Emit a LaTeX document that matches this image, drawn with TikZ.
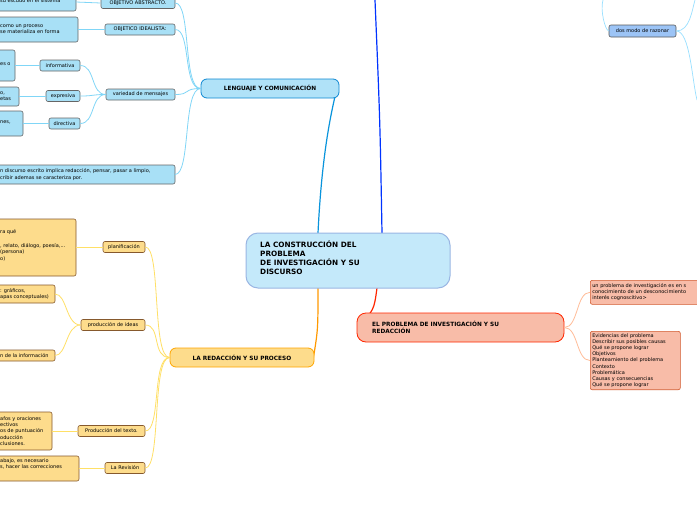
\documentclass[tikz,border=0pt]{standalone}
\usepackage{fontspec}
\setmainfont{DejaVu Sans}
\begin{document}
\begin{tikzpicture}[x=1pt,y=-1pt,
  every node/.style={font=\fontsize{5}{6.2}\selectfont, inner sep=0pt},
  bleaf/.style={draw=gray!80!black, fill=cyan!25, rounded corners=2pt, line width=0.6pt},
  oleaf/.style={draw=brown!70!black, fill=orange!35!yellow!60, rounded corners=2pt, line width=0.6pt},
  rleaf/.style={draw=brown!70!red, fill=red!25!orange!30, rounded corners=2pt, line width=0.6pt},
  bl/.style={draw=cyan!50, line width=0.8pt},
  ol/.style={draw=orange!40!yellow!60, line width=0.8pt},
  rl/.style={draw=red!30!orange!40, line width=0.8pt},
  lbl/.style={anchor=west, align=left}]
\useasboundingbox (0,0) rectangle (697,520);
\clip (0,0) rectangle (697,520);
\fill[white] (0,0) rectangle (697,520);
\definecolor{cblue}{HTML}{C4E9FA}
\definecolor{bblue}{HTML}{B0E2F8}
\definecolor{lblue}{HTML}{A8E0F6}
\definecolor{oyel}{HTML}{FDDC8C}
\definecolor{osal}{HTML}{F8BCA8}
\definecolor{dmod}{HTML}{9CC4F6}

% main connectors
\coordinate (cTop) at (318,233);
\coordinate (cTop2) at (382,233);
\coordinate (cBot) at (318,288);
\coordinate (cBot2) at (377,288);
\coordinate (topEnd) at (375,0);
\draw[draw=blue!80!cyan, line width=1.2pt] (cTop2) .. controls (380,120) .. (topEnd);
\coordinate (lcEnd) at (336,92);
\draw[draw=cyan!80!blue, line width=1.2pt] (cTop) .. controls (322,150) and (332,110) .. (lcEnd);
\coordinate (rpEnd) at (313,360);
\draw[draw=orange!80!yellow, line width=1.2pt] (cBot) .. controls (318,330) .. (rpEnd);
\coordinate (epEnd) at (358,327);
\draw[draw=red!70!orange, line width=1.2pt] (cBot2) .. controls (374,310) .. (epEnd);

% central
\node[draw=cyan!50!blue!40, fill=cblue, rounded corners=12pt, line width=1pt, minimum width=204pt, minimum height=55pt] (C) at (348,260.5) {};
\node[anchor=west, align=left, font=\fontsize{7.3}{9}\selectfont\bfseries] at (260,258) {LA CONSTRUCCIÓN DEL\\PROBLEMA\\DE INVESTIGACIÓN Y SU\\DISCURSO};

% LENGUAJE
\node[draw=cyan!70!blue, fill=bblue, rounded corners=6pt, line width=0.8pt, minimum width=138pt, minimum height=19pt, font=\fontsize{5.8}{7}\selectfont\bfseries] (L) at (270,88.5) {LENGUAJE Y COMUNICACIÓN};
\node[bleaf, fill=lblue, minimum width=74pt, minimum height=11pt] (oa) at (138,3) {OBJETIVO ABSTRACTO.};
\node[bleaf, fill=lblue, minimum width=70pt, minimum height=11pt] (oi) at (140,29.5) {OBJETICO IDEALISTA:};
\node[bleaf, fill=lblue, minimum width=69pt, minimum height=11pt] (vm) at (140.5,94.5) {variedad de mensajes};
\node[bleaf, fill=lblue, minimum width=40pt, minimum height=11pt] (inf) at (60,65.5) {informativa};
\node[bleaf, fill=lblue, minimum width=34pt, minimum height=11pt] (exp) at (63,96) {expresiva};
\node[bleaf, fill=lblue, minimum width=31pt, minimum height=11pt] (dir) at (64.5,123.5) {directiva};
\draw[bleaf, fill=lblue] (-10,-10) rectangle (76,11); \node[lbl] at (0,1) {su escudo en el sistema};
\coordinate (l1) at (76,2);
\draw[bleaf, fill=lblue] (-10,17) rectangle (78,42); \node[lbl] at (0,29) {como un proceso\\se materializa en forma};
\coordinate (l2) at (78,29.5);
\draw[bleaf, fill=lblue] (-10,50) rectangle (15,81); \node[lbl] at (0,64) {es o};
\coordinate (l3) at (15,65.5);
\draw[bleaf, fill=lblue] (-10,87) rectangle (19,106); \node[lbl] at (0,96) {o,\\etas};
\coordinate (l4) at (19,96);
\draw[bleaf, fill=lblue] (-10,111) rectangle (23,136); \node[lbl] at (0,122) {nes,};
\coordinate (l5) at (23,123.5);
\draw[bleaf, fill=lblue] (-10,165) rectangle (175,184); \node[lbl] at (0,174.5) {n discurso escrito implica redacción, pensar, pasar a limpio,\\cribir ademas se caracteriza por.};
\coordinate (l6) at (175,174.5);
\foreach \n in {oa,oi,vm} \draw[bl] (L.west) .. controls +(-18,0) and +(16,0) .. (\n.east);
\draw[bl] (L.west) .. controls +(-18,0) and +(16,0) .. (l6);
\draw[bl] (oa.west) -- (l1); \draw[bl] (oi.west) -- (l2);
\foreach \n in {inf,exp,dir} \draw[bl] (vm.west) .. controls +(-15,0) and +(15,0) .. (\n.east);
\draw[bl] (inf.west) -- (l3); \draw[bl] (exp.west) -- (l4); \draw[bl] (dir.west) -- (l5);

% REDACCION
\node[draw=orange!70!yellow, fill=oyel, rounded corners=6pt, line width=0.8pt, minimum width=144pt, minimum height=19pt, font=\fontsize{5.8}{7}\selectfont\bfseries] (R) at (242,357.5) {LA REDACCIÓN Y SU PROCESO};
\node[oleaf, fill=oyel, minimum width=42pt, minimum height=11pt] (pl) at (124,247) {planificación};
\node[oleaf, fill=oyel, minimum width=64pt, minimum height=11pt] (pi) at (113,325) {producción de ideas};
\node[oleaf, fill=oyel, minimum width=67pt, minimum height=11pt] (pt) at (111.5,431) {Producción del texto.};
\node[oleaf, fill=oyel, minimum width=40pt, minimum height=11pt] (rv) at (125,468) {La Revisión};
\draw[oleaf, fill=oyel] (-10,219) rectangle (76,276); \node[lbl] at (0,245) {ra qué\\[2pt]\\, relato, diálogo, poesía,...\\(persona)\\o)};
\coordinate (o1) at (76,247);
\draw[oleaf, fill=oyel] (-10,285) rectangle (55,303); \node[lbl] at (0,294) {: gráficos,\\apas conceptuales)};
\coordinate (o2) at (55,294);
\draw[oleaf, fill=oyel] (-10,350) rectangle (55,361); \node[lbl] at (0,355.5) {n de la información};
\coordinate (o3) at (55,355.5);
\draw[oleaf, fill=oyel] (-10,412) rectangle (52,450); \node[lbl] at (0,431) {afos y oraciones\\ectivos\\os de puntuación\\oducción\\clusiones.};
\coordinate (o4) at (52,431);
\draw[oleaf, fill=oyel] (-10,456) rectangle (79,481); \node[lbl] at (0,467) {abajo, es necesario\\s, hacer las correcciones\\};
\coordinate (o5) at (79,468);
\foreach \n in {pl,pi,pt,rv} \draw[ol] (R.west) .. controls +(-18,0) and +(16,0) .. (\n.east);
\draw[ol] (pl.west) -- (o1);
\draw[ol] (pi.west) .. controls +(-15,0) and +(12,0) .. (o2);
\draw[ol] (pi.west) .. controls +(-15,0) and +(12,0) .. (o3);
\draw[ol] (pt.west) -- (o4); \draw[ol] (rv.west) -- (o5);

% PROBLEMA
\node[draw=red!70!orange, fill=osal, rounded corners=9pt, line width=0.8pt, minimum width=207pt, minimum height=29pt] (P) at (460.5,327.5) {};
\node[lbl, font=\fontsize{5.8}{7}\selectfont\bfseries] at (372,327.5) {EL PROBLEMA DE INVESTIGACIÓN Y SU\\REDACCIÓN};
\node[rleaf, fill=osal, anchor=north west, align=left, inner sep=2pt, text width=110pt, minimum height=24pt] (p1) at (590,280) {un problema de investigación es en s\\conocimiento de un desconocimiento\\interés cognoscitivo>};
\node[rleaf, fill=osal, anchor=north west, align=left, inner sep=2pt, text width=86pt] (p2) at (590,331) {Evidencias del problema\\Describir sus posibles causas\\Qué se propone lograr\\Objetivos\\Planteamiento del problema\\Contexto\\Problemática\\Causas y consecuencias\\Qué se propone lograr};
\draw[rl] (P.east) .. controls +(14,0) and +(-14,0) .. (p1.west);
\draw[rl] (P.east) .. controls +(14,0) and +(-14,0) .. (p2.west);

% dos modo
\node[draw=gray!70!black, fill=dmod, rounded corners=2pt, line width=0.6pt, minimum width=67pt, minimum height=12pt] (dm) at (642.5,31) {dos modo de razonar};
\coordinate (d1) at (603,0); \coordinate (d2) at (695,0); \coordinate (d3) at (697,100);
\draw[draw=blue!30!cyan!40, line width=0.7pt] (dm.west) .. controls (605,30) and (600,10) .. (d1);
\draw[draw=blue!30!cyan!40, line width=0.7pt] (dm.east) .. controls (690,31) and (692,10) .. (d2);
\draw[draw=blue!30!cyan!40, line width=0.7pt] (dm.east) .. controls (690,31) and (692,80) .. (d3);
\end{tikzpicture}
\end{document}
